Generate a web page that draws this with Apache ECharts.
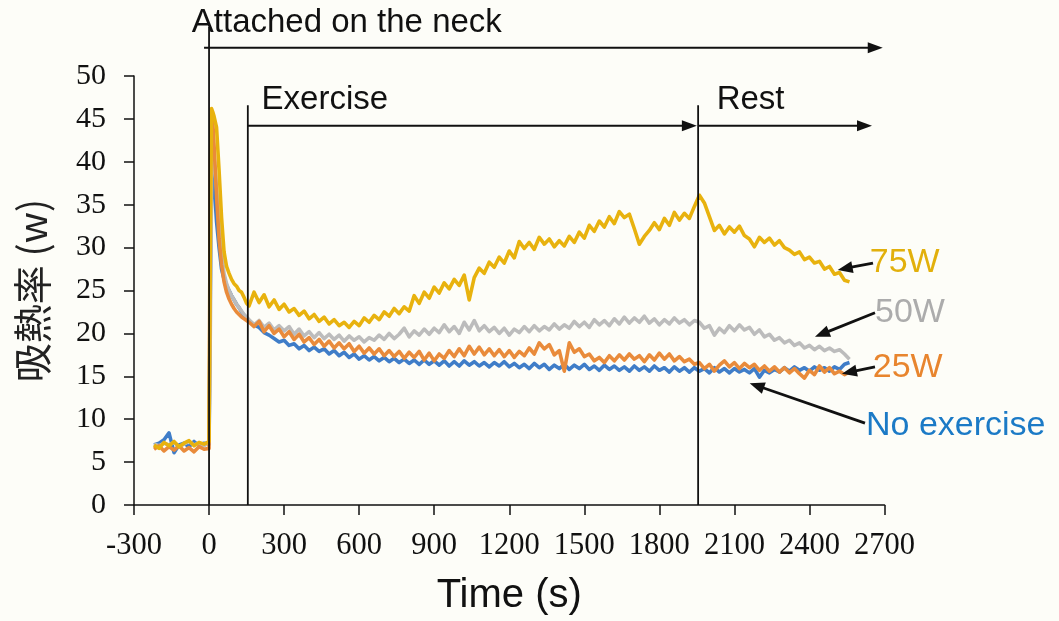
<!DOCTYPE html>
<html><head><meta charset="utf-8">
<script src="https://cdn.jsdelivr.net/npm/echarts@6/dist/echarts.min.js"></script>
<style>html,body{margin:0;padding:0;background:#fdfdf8}#c{width:1059px;height:621px}</style>
</head><body><div id="c"></div>
<script>
// Time (s)
const times = [
 -220,-200,-180,-160,-140,-120,-100,-80,-60,-40,-20,0,
 5,10,15,20,30,40,50,60,70,80,90,100,110,120,130,140,150,
 160,180,200,220,240,260,280,300,320,340,
 360,380,400,420,440,460,480,500,520,540,
 560,580,600,620,640,660,680,700,720,740,
 760,780,800,820,840,860,880,900,920,940,
 960,980,1000,1020,1040,1060,1080,1100,1120,1140,
 1160,1180,1200,1220,1240,1260,1280,1300,1320,1340,
 1360,1380,1400,1420,1440,1460,1480,1500,1520,1540,
 1560,1580,1600,1620,1640,1660,1680,1700,1720,1740,
 1760,1780,1800,1820,1840,1860,1880,1900,1920,1940,
 1960,1980,2000,2020,2040,2060,2080,2100,2120,2140,
 2160,2180,2200,2220,2240,2260,2280,2300,2320,2340,
 2360,2380,2400,2420,2440,2460,2480,2500,2520,2540,
 2560
];
// No exercise
const noExercise = [
 7.0,7.2,7.6,8.4,6.1,7.0,7.2,6.8,7.4,6.9,7.2,7.1,
 25.0,37.0,39.5,37.5,33.0,30.0,27.5,26.3,25.6,25.0,24.4,23.9,23.4,23.0,22.5,22.1,21.7,
 21.5,21.0,20.7,20.1,19.8,19.4,19.0,19.2,18.6,18.8,
 18.2,18.6,18.0,18.4,17.9,18.2,17.6,18.0,17.4,17.8,
 17.2,17.6,17.0,17.4,16.9,17.3,16.8,17.2,16.7,17.1,
 16.6,17.0,16.5,16.9,16.4,16.9,16.4,16.8,16.3,16.8,
 16.2,16.7,16.2,16.8,16.3,16.7,16.2,16.6,16.1,16.6,
 16.2,16.7,16.1,16.5,16.0,16.4,15.9,16.5,16.0,16.4,
 15.8,16.3,15.9,16.4,15.8,16.3,15.9,16.4,15.8,16.2,
 15.7,16.3,15.8,16.2,15.7,16.1,15.6,16.2,15.7,16.1,
 15.6,16.2,15.7,16.0,15.5,16.1,15.6,16.0,15.5,16.0,
 15.6,15.9,15.4,16.0,15.5,15.9,15.4,15.9,15.5,15.8,
 15.4,15.9,14.9,15.7,15.4,15.8,15.5,16.0,15.6,16.1,
 15.7,16.0,15.6,16.1,15.7,16.0,15.6,16.1,15.8,16.4,
 16.6
];
// 25W
const w25 = [
 6.5,6.9,6.3,6.8,6.4,6.9,6.3,6.7,6.2,6.8,6.5,6.6,
 40.0,45.5,44.5,42.0,36.0,31.0,28.0,26.0,24.8,24.0,23.4,22.9,22.5,22.2,21.9,21.7,21.5,
 21.3,20.8,21.4,20.2,20.9,20.0,20.5,19.6,20.2,19.3,
 19.9,19.0,19.5,18.7,19.3,18.5,19.1,18.3,18.9,18.2,
 18.8,17.9,18.5,17.7,18.3,17.6,18.2,17.4,18.0,17.3,
 17.9,17.1,17.8,17.2,17.9,16.9,17.7,16.8,17.6,17.1,
 18.0,17.3,18.2,17.4,18.5,17.6,18.4,17.5,18.2,17.4,
 18.1,17.3,18.0,17.2,17.9,17.4,18.3,17.6,18.9,18.2,
 18.7,17.5,18.0,15.6,18.9,17.8,18.2,17.3,17.6,16.8,
 17.2,16.6,17.4,16.8,17.5,16.9,17.6,17.0,17.4,16.7,
 17.5,16.9,17.7,17.0,17.6,16.8,17.3,16.7,17.0,16.4,
 16.6,15.9,16.4,15.6,16.3,16.8,16.1,16.6,15.9,16.5,
 16.0,16.4,15.7,16.2,15.6,16.1,15.5,16.0,15.4,15.9,
 15.3,14.8,15.7,15.2,16.2,15.5,16.0,15.3,15.6,15.2,
 15.5
];
// 50W
const w50 = [
 7.1,6.9,7.2,7.0,7.3,6.8,7.1,7.4,7.0,7.2,6.9,7.3,
 20.0,38.0,41.5,40.5,37.0,33.0,29.5,27.0,25.8,25.0,24.4,23.9,23.4,23.0,22.6,22.2,21.9,
 21.6,21.0,21.5,20.7,21.2,20.4,20.9,20.3,20.8,19.9,
 20.5,19.7,20.2,19.5,20.1,19.4,19.9,19.3,19.8,19.1,
 19.7,19.2,19.6,19.0,19.5,19.2,19.8,19.3,20.0,19.4,
 19.9,20.6,19.6,20.3,19.8,20.5,19.9,20.6,20.1,21.0,
 20.2,20.8,20.0,21.3,20.4,21.5,20.3,20.9,20.2,20.7,
 20.0,20.6,19.8,20.5,20.1,20.8,20.2,20.9,20.3,20.8,
 20.4,21.1,20.5,21.0,20.6,21.4,20.8,21.3,20.7,21.6,
 21.0,21.5,20.9,21.7,21.1,21.9,21.2,21.8,21.3,22.0,
 21.2,21.7,21.0,21.6,21.1,21.8,21.2,21.6,21.0,21.5,
 21.3,20.6,20.9,19.8,20.6,20.1,20.9,20.3,21.0,20.4,
 20.7,19.9,20.4,19.6,19.9,19.2,19.5,18.9,19.2,18.6,
 18.9,18.3,18.6,18.1,18.5,18.0,18.3,17.9,18.1,17.6,
 17.0
];
// 75W
const w75 = [
 7.0,6.6,7.3,6.9,7.4,6.8,7.2,7.5,6.9,7.3,7.1,7.4,
 30.0,46.2,45.8,45.3,44.0,39.0,33.5,29.5,27.8,27.0,26.3,25.8,25.5,25.0,24.8,24.2,23.5,
 23.2,24.8,23.6,24.5,23.1,23.9,22.8,23.4,22.5,22.9,
 22.1,22.6,21.7,22.2,21.4,21.9,21.1,21.6,20.9,21.3,
 20.7,21.4,20.9,21.8,21.3,22.1,21.6,22.5,22.0,22.9,
 22.3,23.1,22.6,24.4,23.5,24.8,24.1,25.4,24.7,25.9,
 25.2,26.3,25.6,26.8,23.9,26.5,27.6,27.0,28.3,27.7,
 28.9,28.2,29.6,28.8,30.7,29.9,30.6,29.8,31.2,30.4,
 31.0,30.1,30.8,30.2,31.3,30.6,31.8,31.1,32.6,31.9,
 33.1,32.4,33.6,32.8,34.2,33.5,33.9,32.2,30.4,31.3,
 32.0,32.9,32.1,33.4,32.6,34.1,33.2,34.0,33.4,34.8,
 36.1,35.2,33.6,32.0,32.6,31.6,32.4,31.8,32.5,31.4,
 31.0,30.1,31.2,30.6,31.1,30.3,30.8,30.0,29.7,29.2,
 29.5,28.6,28.9,28.2,28.4,27.5,27.8,26.9,27.1,26.2,
 26.0
];
const xTicks = [-300,0,300,600,900,1200,1500,1800,2100,2400,2700];
const yTicks = [0,5,10,15,20,25,30,35,40,45,50];

const SANS = '"Liberation Sans", Arial, sans-serif';
const SERIF = '"Liberation Serif", "Times New Roman", serif';
const INK = '#111';

const seriesDefs = [
  {name:'No exercise', values:noExercise, color:'#3f7dc8'},
  {name:'50W', values:w50, color:'#bcbcbc'},
  {name:'25W', values:w25, color:'#e98b3b'},
  {name:'75W', values:w75, color:'#e8b20e'}
];

const chart = echarts.init(document.getElementById('c'));
chart.setOption({
  backgroundColor:'#fdfdf8',
  animation:false,
  grid:{left:134, right:174.5, top:76, bottom:116},
  xAxis:{
    type:'value', min:xTicks[0], max:xTicks[xTicks.length-1], interval:300,
    name:'Time (s)', nameLocation:'middle', nameGap:71,
    nameTextStyle:{fontFamily:SANS, fontSize:40, color:INK},
    axisLine:{onZero:false, lineStyle:{color:INK, width:1.5}},
    axisTick:{length:10, lineStyle:{color:INK, width:1.5}},
    axisLabel:{fontFamily:SERIF, fontSize:30.5, color:INK, margin:25, formatter:v=>String(v)},
    splitLine:{show:false}
  },
  yAxis:{
    type:'value', min:yTicks[0], max:yTicks[yTicks.length-1], interval:5,
    name:'吸熱率 (w)', nameLocation:'middle', nameGap:82, nameRotate:90,
    nameTextStyle:{fontFamily:'"Noto Sans CJK JP", sans-serif', fontSize:39, color:'#222'},
    axisLine:{show:true, onZero:false, lineStyle:{color:INK, width:1.5}},
    axisTick:{show:true, length:10, lineStyle:{color:INK, width:1.5}},
    axisLabel:{fontFamily:SERIF, fontSize:30, color:INK, margin:28, formatter:v=>String(v)},
    splitLine:{show:false}
  },
  series: seriesDefs.map(s => ({
    type:'line', name:s.name,
    data: times.map((t,i)=>[t, s.values[i]]),
    symbol:'none', showSymbol:false, clip:false,
    lineStyle:{color:s.color, width:3.6, join:'round'},
    itemStyle:{color:s.color}
  }))
});

// Annotations (in data units)
const vMarks = [ {x:0, top:55.7}, {x:155, top:46.6}, {x:1955, top:46.6} ];
const spanArrows = [ {from:[-20,53.3], to:[2693,53.3]}, {from:[155,44.2], to:[1950,44.2]}, {from:[1955,44.2], to:[2650,44.2]} ];
const spanTexts = [ {text:'Attached on the neck', at:[-69,56.2]}, {text:'Exercise', at:[210,47.2]}, {text:'Rest', at:[2029,47.2]} ];
const seriesLabels = [
  {text:'75W', at:[2641,28.3], color:'#e2b00c', from:[2654,28.2], to:[2513,27.4]},
  {text:'50W', at:[2662,22.4], color:'#acacac', from:[2662,22.4], to:[2422,19.6]},
  {text:'25W', at:[2653,16.0], color:'#e8852e', from:[2662,16.1], to:[2530,15.3]},
  {text:'No exercise', at:[2626,9.3], color:'#1b7ac6', from:[2622,9.55], to:[2161,14.2]}
];

function px(p){ return chart.convertToPixel({gridIndex:0}, p); }
function arrowEls(a, b, lw, hl, hw){
  const dx=b[0]-a[0], dy=b[1]-a[1], L=Math.hypot(dx,dy), ux=dx/L, uy=dy/L;
  const base=[b[0]-ux*hl, b[1]-uy*hl];
  return [
    {type:'line', shape:{x1:a[0],y1:a[1],x2:base[0]+ux*1,y2:base[1]+uy*1}, style:{stroke:INK, lineWidth:lw}, silent:true, z:10},
    {type:'polygon', shape:{points:[b,[base[0]-uy*hw/2, base[1]+ux*hw/2],[base[0]+uy*hw/2, base[1]-ux*hw/2]]}, style:{fill:INK}, silent:true, z:10}
  ];
}
const g = [];
const axisY = px([0,0])[1];
vMarks.forEach(m => { const t=px([m.x,m.top]); g.push({type:'line', shape:{x1:t[0],y1:t[1],x2:t[0],y2:axisY}, style:{stroke:INK, lineWidth:1.8}, silent:true, z:10}); });
spanArrows.forEach(a => g.push(...arrowEls(px(a.from), px(a.to), 2, 15, 11)));
spanTexts.forEach(t => { const p=px(t.at); g.push({type:'text', x:p[0], y:p[1], style:{text:t.text, fill:INK, font:'33px '+SANS, align:'left', verticalAlign:'middle'}, silent:true, z:10}); });
seriesLabels.forEach(l => {
  const p=px(l.at);
  g.push({type:'text', x:p[0], y:p[1], style:{text:l.text, fill:l.color, font:'34px '+SANS, align:'left', verticalAlign:'middle'}, silent:true, z:10});
  g.push(...arrowEls(px(l.from), px(l.to), 2.8, 15, 12));
});
chart.setOption({graphic:g});
</script></body></html>
